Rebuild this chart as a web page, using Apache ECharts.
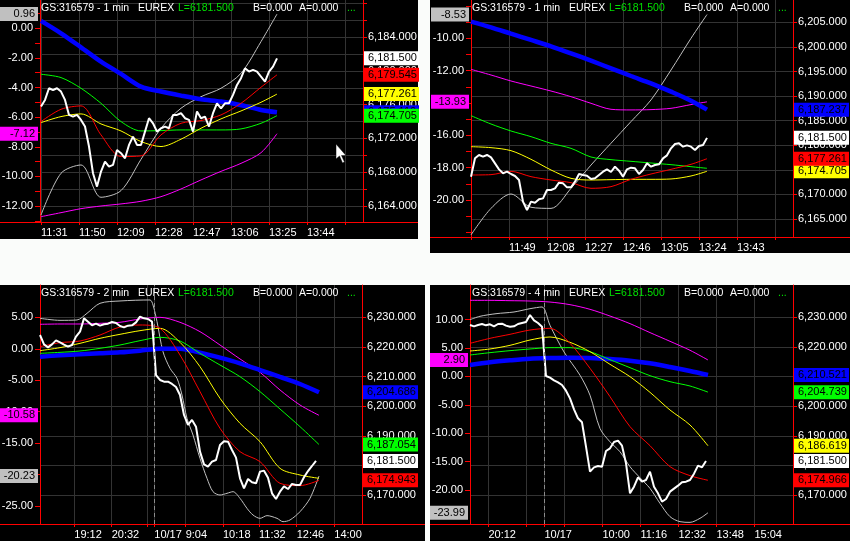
<!DOCTYPE html>
<html>
<head>
<meta charset="utf-8">
<script src="https://cdn.jsdelivr.net/npm/echarts@6/dist/echarts.min.js"></script>
<style>
  html, body { margin: 0; padding: 0; background: #fafcfa; }
  #main { width: 850px; height: 541px; }
</style>
</head>
<body>
<div id="main"></div>
<script>
  var FONT = "'Liberation Sans', Arial, sans-serif";

  // ---- panel 1 : 1 min, x = bars since 11:31 ----
  var p1WhiteStep = 2;
  var p1White = [6175.78, 6176.57, 6177.95, 6177.75, 6177.95, 6177.56, 6176.57, 6174.79, 6174.59, 6174.79,
    6174.20, 6173.41, 6171.04, 6167.87, 6166.29, 6168.07, 6169.26, 6168.66, 6168.86, 6170.64,
    6170.25, 6169.65, 6171.23, 6172.22, 6171.23, 6171.23, 6172.81, 6174.40, 6173.80, 6172.81,
    6173.21, 6173.41, 6173.21, 6174.79, 6174.79, 6174.99, 6174.40, 6174.20, 6172.81, 6175.19,
    6174.40, 6174.59, 6173.41, 6174.99, 6176.17, 6175.58, 6176.17, 6176.17, 6177.16, 6178.35,
    6179.14, 6180.32, 6179.93, 6180.13, 6179.93, 6179.34, 6178.74, 6179.93, 6180.52, 6181.50];
  var p1LineX = [0, 10, 20, 30, 40, 50, 60, 70, 80, 90, 100, 110, 118];
  var p1Blue = [6185.94, 6184.47, 6182.81, 6181.11, 6179.65, 6178.15, 6177.56, 6177.08, 6176.65, 6176.37, 6175.94, 6175.38, 6175.11];
  var p1Green = [6179.61, 6179.22, 6177.95, 6176.17, 6174.00, 6172.89, 6172.93, 6173.01, 6173.01, 6173.01, 6173.13, 6173.80, 6174.705];
  var p1Yellow = [6173.88, 6174.59, 6174.91, 6173.72, 6172.89, 6171.63, 6171.04, 6171.91, 6173.21, 6174.32, 6175.26, 6176.29, 6177.261];
  var p1Red = [6174.00, 6175.46, 6175.86, 6172.42, 6169.85, 6169.93, 6172.42, 6173.80, 6174.12, 6174.79, 6176.17, 6178.07, 6179.545];
  var p1Gray = [-12.61, -9.79, -9.23, -11.41, -10.96, -8.85, -6.75, -5.40, -4.62, -4.05, -3.04, -0.90, 0.96];
  var p1Magenta = [-12.72, -12.45, -12.18, -12.00, -11.86, -11.68, -11.37, -10.85, -10.24, -9.66, -9.12, -8.40, -7.12];
  var p1TimeTicks = [0, 19, 38, 57, 76, 95, 114, 133, 152];
  var p1TimeLabels = ['11:31', '11:50', '12:09', '12:28', '12:47', '13:06', '13:25', '13:44', ''];
  var p1PriceTicks = [6164, 6166, 6168, 6170, 6172, 6174, 6176, 6178, 6180, 6182, 6184, 6186, 6188];
  var p1PriceLabels = [6164, 6168, 6172, 6176, 6180, 6184];
  var p1OscTicks = [-13, -12, -11, -10, -9, -8, -7, -6, -5, -4, -3, -2, -1, 0, 1];
  var p1OscLabels = [-12, -10, -8, -6, -4, -2, 0];

  // ---- panel 2 : 1 min, x = bars since 11:30 ----
  var p2WhiteStep = 2;
  var p2White = [6173.61, 6177.34, 6178.02, 6177.68, 6178.02, 6177.54, 6176.32, 6175.10, 6174.29, 6174.63,
    6174.15, 6173.75, 6172.93, 6168.53, 6166.83, 6168.53, 6168.32, 6169.00, 6169.20, 6170.90,
    6170.90, 6171.24, 6172.39, 6172.25, 6171.44, 6171.44, 6172.59, 6174.15, 6173.95, 6173.81,
    6173.14, 6173.27, 6173.95, 6174.63, 6175.10, 6174.56, 6175.64, 6174.83, 6173.61, 6175.10,
    6175.44, 6175.31, 6174.15, 6174.97, 6176.32, 6175.64, 6175.98, 6176.12, 6177.34, 6177.95,
    6179.37, 6180.25, 6180.39, 6179.71, 6179.98, 6179.71, 6179.03, 6179.85, 6180.05, 6181.50];
  var p2LineX = [0, 10, 20, 30, 40, 50, 60, 70, 80, 90, 100, 110, 118];
  var p2Blue = [6205.14, 6203.98, 6202.69, 6201.41, 6200.12, 6198.69, 6197.20, 6195.64, 6194.08, 6192.59, 6190.90, 6189.07, 6187.237];
  var p2Green = [6186.02, 6184.32, 6182.90, 6181.75, 6180.39, 6179.37, 6177.61, 6177.07, 6176.73, 6176.39, 6176.05, 6175.64, 6175.31];
  var p2Yellow = [6179.71, 6179.51, 6178.90, 6177.14, 6174.97, 6173.27, 6172.93, 6173.00, 6173.07, 6173.07, 6173.14, 6173.75, 6174.705];
  var p2Red = [6173.95, 6174.02, 6174.69, 6173.61, 6172.93, 6172.39, 6171.24, 6171.58, 6173.07, 6174.15, 6175.10, 6176.12, 6177.261];
  var p2Gray = [-22.16, -20.52, -19.63, -20.45, -20.52, -19.28, -17.84, -16.49, -15.15, -13.81, -11.96, -10.00, -8.53];
  var p2Magenta = [-11.92, -12.27, -12.64, -12.95, -13.26, -13.61, -14.02, -14.39, -14.43, -14.41, -14.33, -14.10, -13.93];
  var p2TimeTicks = [0, 19, 38, 57, 76, 95, 114, 133, 152];
  var p2TimeLabels = ['', '11:49', '12:08', '12:27', '12:46', '13:05', '13:24', '13:43', ''];
  var p2PriceTicks = [6165, 6170, 6175, 6180, 6185, 6190, 6195, 6200, 6205];
  var p2OscTicks = [-22, -21, -20, -19, -18, -17, -16, -15, -14, -13, -12, -11, -10, -9, -8];
  var p2OscLabels = [-20, -18, -16, -14, -12, -10];

  // ---- panel 3 : 2 min bars ----
  var p3WhiteStep = 4;
  var p3White = [6224.03, 6220.88, 6219.87, 6220.88, 6222.23, 6221.56, 6220.77, 6220.09, 6220.66, 6223.47,
    6225.16, 6229.66, 6228.54, 6227.30, 6227.86, 6227.19, 6227.64, 6227.86, 6228.42, 6228.09,
    6227.07, 6226.62, 6227.19, 6227.30, 6228.31, 6230.23, 6229.66, 6229.44, 6228.54, 6210.52,
    6208.84, 6208.27, 6208.27, 6207.49, 6206.47, 6203.77, 6197.02, 6193.64, 6195.33, 6193.08,
    6184.63, 6180.35, 6179.57, 6181.26, 6181.82, 6186.88, 6188.12, 6188.01, 6185.20, 6182.61,
    6175.63, 6172.25, 6175.40, 6174.28, 6173.94, 6177.88, 6178.22, 6175.85, 6170.56, 6168.65,
    6171.12, 6172.92, 6172.02, 6173.71, 6173.37, 6173.37, 6175.96, 6178.10, 6179.79, 6181.50];
  var p3LineX = [0, 20, 40, 60, 80, 100, 120, 140, 160, 180, 200, 220, 240, 260, 279];
  var p3Blue = [6216.72, 6217.17, 6217.50, 6217.84, 6218.18, 6218.74, 6219.42, 6219.42, 6218.07, 6216.38, 6214.46, 6212.21, 6209.85, 6207.49, 6204.686];
  var p3Green = [6217.84, 6218.18, 6218.63, 6219.53, 6220.66, 6222.12, 6223.25, 6222.01, 6217.84, 6213.90, 6209.96, 6204.90, 6199.04, 6193.08, 6187.054];
  var p3Yellow = [6218.74, 6219.76, 6221.22, 6222.91, 6224.26, 6225.50, 6226.29, 6221.56, 6213.34, 6202.64, 6194.20, 6188.01, 6179.00, 6176.75, 6175.63];
  var p3Red = [6220.09, 6221.44, 6222.01, 6224.03, 6226.74, 6227.41, 6226.29, 6217.28, 6204.90, 6192.51, 6184.63, 6181.26, 6173.94, 6173.15, 6174.943];
  var p3Magenta = [3.89, 3.94, 3.94, 4.05, 4.21, 4.74, 5.00, 4.21, 2.72, 0.60, -1.62, -3.74, -6.55, -8.94, -10.58];
  var p3GrayX = [0, 20, 37, 47, 60, 80, 110, 113, 117, 123, 130, 137, 142, 147, 153, 160, 167, 173, 180, 187,
    193, 200, 207, 213, 220, 227, 237, 243, 250, 260, 270, 279];
  var p3Gray = [4.84, 4.52, 4.58, 5.64, 7.23, 7.60, 7.76, 6.96, 4.31, -0.46, -3.11, -4.70, -7.35, -11.06, -13.71,
    -17.42, -20.60, -22.72, -23.25, -22.98, -22.72, -23.78, -25.37, -26.43, -26.96, -26.53, -26.96, -27.49,
    -27.22, -25.90, -23.78, -20.23];
  var p3TimeTicks = [34.3, 71.7, 107.7, 114.3, 145.7, 183, 219, 256.7, 294.3];
  var p3TimeLabels = ['19:12', '20:32', '', '10/17', '9:04', '10:18', '11:32', '12:46', '14:00'];
  var p3DayBreak = 114.3;
  var p3PriceTicks = [6170, 6180, 6190, 6200, 6210, 6220, 6230];
  var p3OscTicks = [-25, -20, -15, -10, -5, 0, 5];

  // ---- panel 4 : 4 min bars ----
  var p4WhiteStep = 2;
  var p4White = [6227.41, 6226.96, 6227.41, 6227.75, 6227.30, 6227.64, 6226.96, 6227.75, 6227.86, 6227.19,
    6226.85, 6226.96, 6227.75, 6228.09, 6228.42, 6230.79, 6228.99, 6228.09, 6226.85, 6210.19,
    6209.62, 6208.72, 6208.05, 6207.15, 6205.23, 6202.64, 6198.93, 6195.89, 6194.54, 6186.32,
    6177.88, 6179.34, 6179.79, 6179.57, 6184.86, 6185.76, 6187.90, 6188.35, 6186.66, 6180.69,
    6170.56, 6172.81, 6175.96, 6174.50, 6175.06, 6177.88, 6172.81, 6170.56, 6167.75, 6168.65,
    6171.12, 6172.14, 6173.15, 6174.28, 6174.50, 6175.06, 6177.20, 6179.90, 6179.34, 6181.50];
  var p4LineX = [0, 10, 20, 30, 40, 50, 60, 70, 80, 90, 100, 110, 119];
  var p4Blue = [6213.90, 6214.80, 6215.48, 6216.04, 6216.27, 6216.38, 6216.27, 6215.93, 6215.37, 6214.46, 6213.23, 6211.88, 6210.521];
  var p4Green = [6217.28, 6218.07, 6218.74, 6219.31, 6219.76, 6219.76, 6218.40, 6215.70, 6213.00, 6210.30, 6208.27, 6206.81, 6204.739];
  var p4Yellow = [6218.63, 6219.31, 6220.54, 6222.34, 6223.36, 6221.56, 6218.40, 6214.13, 6209.96, 6204.67, 6198.70, 6193.64, 6186.619];
  var p4Red = [6221.22, 6222.91, 6224.26, 6225.72, 6226.29, 6221.22, 6212.78, 6203.21, 6193.08, 6186.66, 6179.57, 6176.53, 6174.966];
  var p4Magenta = [13.40, 13.40, 13.34, 13.28, 13.10, 12.64, 11.82, 10.64, 9.30, 7.72, 6.19, 4.61, 2.90];
  var p4GrayX = [0, 5, 13, 22, 30, 36, 40, 47, 55, 60, 65, 70, 75, 80, 85, 90, 95, 100, 105, 110, 115, 119];
  var p4Gray = [10.00, 10.59, 11.05, 11.35, 11.93, 12.23, 9.00, 4.32, 0.22, -3.30, -9.16, -11.50, -13.26, -15.89,
    -17.83, -19.70, -22.34, -24.68, -25.56, -25.68, -24.97, -23.99];
  var p4TimeTicks = [9.2, 28.2, 37.2, 47.2, 66.2, 85.2, 104.2, 123.2, 142.2];
  var p4TimeLabels = ['20:12', '', '10/17', '', '10:00', '11:16', '12:32', '13:48', '15:04'];
  var p4DayBreak = 37.2;
  var p4PriceTicks = [6170, 6180, 6190, 6200, 6210, 6220, 6230];
  var p4OscTicks = [-20, -15, -10, -5, 0, 5, 10];

  var C = { white: '#ffffff', blue: '#0000ff', green: '#00ff00', yellow: '#ffff00',
            red: '#ff0000', gray: '#c0c0c0', magenta: '#ff00ff' };

  function pairs(xs, ys) { return ys.map(function (v, i) { return [xs[i], v]; }); }
  function stepPairs(step, ys) { return ys.map(function (v, i) { return [i * step, v]; }); }

  function fmtPrice(v) {
    var s = Number(v).toFixed(3).split('.');
    return s[0].replace(/\B(?=(\d{3})+(?!\d))/g, ',') + '.' + s[1];
  }
  function fmtOsc(v) { return Number(v).toFixed(2); }
  function lookup(ticks, labels) {
    return function (v) {
      for (var i = 0; i < ticks.length; i++) {
        if (Math.abs(ticks[i] - v) < 0.01) return labels[i];
      }
      return '';
    };
  }

  var panels = [
    { grid: { left: 40, top: 0, width: 323, height: 222 }, x: [-0.5, 161],
      yL: [-13.08, 1.91], yR: [6162.09, 6188.42],
      tTicks: p1TimeTicks, tLabels: p1TimeLabels, pTicks: p1PriceTicks, pLabels: p1PriceLabels,
      oTicks: p1OscTicks, oLabels: p1OscLabels,
      lines: [
        { d: pairs(p1LineX, p1Gray), ax: 'L', c: C.gray, w: 1, sm: true, box: true },
        { d: pairs(p1LineX, p1Magenta), ax: 'L', c: C.magenta, w: 1, sm: true, box: true },
        { d: pairs(p1LineX, p1Blue), ax: 'R', c: C.blue, w: 4.5, sm: true, box: true },
        { d: pairs(p1LineX, p1Green), ax: 'R', c: C.green, w: 1, sm: true, box: true },
        { d: pairs(p1LineX, p1Yellow), ax: 'R', c: C.yellow, w: 1, sm: true, box: true },
        { d: pairs(p1LineX, p1Red), ax: 'R', c: C.red, w: 1, sm: true, box: true },
        { d: stepPairs(p1WhiteStep, p1White), ax: 'R', c: C.white, w: 2, sm: false, box: true }
      ] },
    { grid: { left: 471, top: 0, width: 322, height: 237 }, x: [0, 161],
      yL: [-22.29, -7.63], yR: [6161.34, 6209.54],
      tTicks: p2TimeTicks, tLabels: p2TimeLabels, pTicks: p2PriceTicks, pLabels: p2PriceTicks,
      oTicks: p2OscTicks, oLabels: p2OscLabels,
      lines: [
        { d: pairs(p2LineX, p2Gray), ax: 'L', c: C.gray, w: 1, sm: true, box: true },
        { d: pairs(p2LineX, p2Magenta), ax: 'L', c: C.magenta, w: 1, sm: true, box: true },
        { d: pairs(p2LineX, p2Blue), ax: 'R', c: C.blue, w: 4.5, sm: true, box: true },
        { d: pairs(p2LineX, p2Green), ax: 'R', c: C.green, w: 1, sm: true, box: false },
        { d: pairs(p2LineX, p2Yellow), ax: 'R', c: C.yellow, w: 1, sm: true, box: true },
        { d: pairs(p2LineX, p2Red), ax: 'R', c: C.red, w: 1, sm: true, box: true },
        { d: stepPairs(p2WhiteStep, p2White), ax: 'R', c: C.white, w: 2, sm: false, box: true }
      ] },
    { grid: { left: 40, top: 285, width: 322, height: 239 }, x: [0, 322],
      yL: [-27.86, 10.14], yR: [6160.20, 6240.92],
      tTicks: p3TimeTicks, tLabels: p3TimeLabels, pTicks: p3PriceTicks, pLabels: p3PriceTicks,
      oTicks: p3OscTicks, oLabels: p3OscTicks, day: p3DayBreak,
      lines: [
        { d: pairs(p3GrayX, p3Gray), ax: 'L', c: C.gray, w: 1, sm: true, box: true },
        { d: pairs(p3LineX, p3Magenta), ax: 'L', c: C.magenta, w: 1, sm: true, box: true },
        { d: pairs(p3LineX, p3Blue), ax: 'R', c: C.blue, w: 4.5, sm: true, box: true },
        { d: pairs(p3LineX, p3Green), ax: 'R', c: C.green, w: 1, sm: true, box: true },
        { d: pairs(p3LineX, p3Yellow), ax: 'R', c: C.yellow, w: 1, sm: true, box: false },
        { d: pairs(p3LineX, p3Red), ax: 'R', c: C.red, w: 1, sm: true, box: true },
        { d: stepPairs(p3WhiteStep, p3White), ax: 'R', c: C.white, w: 2, sm: false, box: true }
      ] },
    { grid: { left: 470, top: 285, width: 323, height: 239 }, x: [0, 161.5],
      yL: [-25.97, 16.1], yR: [6160.20, 6240.92],
      tTicks: p4TimeTicks, tLabels: p4TimeLabels, pTicks: p4PriceTicks, pLabels: p4PriceTicks,
      oTicks: p4OscTicks, oLabels: p4OscTicks, day: p4DayBreak,
      lines: [
        { d: pairs(p4GrayX, p4Gray), ax: 'L', c: C.gray, w: 1, sm: true, box: true },
        { d: pairs(p4LineX, p4Magenta), ax: 'L', c: C.magenta, w: 1, sm: true, box: true },
        { d: pairs(p4LineX, p4Blue), ax: 'R', c: C.blue, w: 4.5, sm: true, box: true },
        { d: pairs(p4LineX, p4Green), ax: 'R', c: C.green, w: 1, sm: true, box: true },
        { d: pairs(p4LineX, p4Yellow), ax: 'R', c: C.yellow, w: 1, sm: true, box: true },
        { d: pairs(p4LineX, p4Red), ax: 'R', c: C.red, w: 1, sm: true, box: true },
        { d: stepPairs(p4WhiteStep, p4White), ax: 'R', c: C.white, w: 2, sm: false, box: true }
      ] }
  ];

  var grids = [], xAxes = [], yAxes = [], series = [];
  var GRID_LINE = '#333333';

  panels.forEach(function (p, k) {
    grids.push(Object.assign({ show: false, containLabel: false, outerBoundsMode: 'none' }, p.grid));
    xAxes.push({
      type: 'value', gridIndex: k, min: p.x[0], max: p.x[1],
      axisLine: { show: true, onZero: false, lineStyle: { color: '#ff0000', width: 1 } },
      axisTick: { show: true, customValues: p.tTicks, length: 3, lineStyle: { color: '#ff0000' } },
      axisLabel: { show: true, customValues: p.tTicks, formatter: lookup(p.tTicks, p.tLabels),
        color: '#ffffff', fontSize: 11, fontFamily: FONT, align: 'left', margin: 5 },
      splitLine: { show: true, lineStyle: { color: GRID_LINE, width: 1 } }
    });
    yAxes.push({
      type: 'value', gridIndex: k, position: 'left', min: p.yL[0], max: p.yL[1],
      axisLine: { show: true, onZero: false, lineStyle: { color: '#ff0000', width: 1 } },
      axisTick: { show: true, customValues: p.oTicks, length: 5, lineStyle: { color: '#ff0000' } },
      axisLabel: { show: true, customValues: p.oLabels, formatter: fmtOsc,
        color: '#ffffff', fontSize: 11, fontFamily: FONT, margin: 7 },
      splitLine: { show: false }
    });
    yAxes.push({
      type: 'value', gridIndex: k, position: 'right', min: p.yR[0], max: p.yR[1],
      axisLine: { show: true, onZero: false, lineStyle: { color: '#ff0000', width: 1 } },
      axisTick: { show: true, customValues: p.pTicks, length: 4, lineStyle: { color: '#ff0000' } },
      axisLabel: { show: true, customValues: p.pLabels, formatter: fmtPrice,
        color: '#ffffff', fontSize: 11, fontFamily: FONT, margin: 5 },
      splitLine: { show: true, lineStyle: { color: GRID_LINE, width: 1 } }
    });

    p.lines.forEach(function (ln, j) {
      var last = ln.d[ln.d.length - 1][1];
      var right = ln.ax === 'R';
      var marks = [];
      if (ln.box) marks.push({ yAxis: last });
      // dashed day separator rides on the price line
      if (p.day != null && j === p.lines.length - 1) {
        marks.push({ xAxis: p.day, label: { show: false },
          lineStyle: { color: '#8c8c8c', type: [4, 3], width: 1 } });
      }
      series.push({
        type: 'line', xAxisIndex: k, yAxisIndex: right ? 2 * k + 1 : 2 * k,
        data: ln.d, showSymbol: false, symbol: 'none', smooth: ln.sm ? 0.3 : false,
        lineStyle: { color: ln.c, width: ln.w }, itemStyle: { color: ln.c },
        silent: true, animation: false,
        markLine: marks.length ? {
          silent: true, symbol: ['none', 'none'], precision: 3, animation: false,
          lineStyle: { width: 0, color: 'rgba(0,0,0,0)', type: 'solid' },
          label: {
            show: true, position: right ? 'end' : 'start', distance: right ? 1 : 2,
            formatter: function () { return right ? fmtPrice(last) : fmtOsc(last); },
            color: '#000000', backgroundColor: ln.c, fontSize: 11, fontFamily: FONT, lineHeight: 12,
            padding: right ? [1, 2, 1, 4] : [1, 3, 1, 2], width: right ? 49 : 33
          },
          data: marks
        } : undefined
      });
    });
  });

  // panel frames, full width axis lines, header texts
  var graphics = [
    { type: 'rect', z: -10, silent: true, shape: { x: 0, y: 0, width: 418, height: 239 }, style: { fill: '#000' } },
    { type: 'rect', z: -10, silent: true, shape: { x: 430, y: 0, width: 420, height: 253 }, style: { fill: '#000' } },
    { type: 'rect', z: -10, silent: true, shape: { x: 0, y: 285, width: 425, height: 256 }, style: { fill: '#000' } },
    { type: 'rect', z: -10, silent: true, shape: { x: 430, y: 285, width: 420, height: 256 }, style: { fill: '#000' } },
    { type: 'line', z: 50, silent: true, shape: { x1: 0, y1: 222.5, x2: 418, y2: 222.5 }, style: { stroke: '#ff0000', lineWidth: 1 } },
    { type: 'line', z: 50, silent: true, shape: { x1: 430, y1: 237.5, x2: 850, y2: 237.5 }, style: { stroke: '#ff0000', lineWidth: 1 } },
    { type: 'line', z: 50, silent: true, shape: { x1: 0, y1: 524.5, x2: 425, y2: 524.5 }, style: { stroke: '#ff0000', lineWidth: 1 } },
    { type: 'line', z: 50, silent: true, shape: { x1: 430, y1: 524.5, x2: 850, y2: 524.5 }, style: { stroke: '#ff0000', lineWidth: 1 } },
    { type: 'polygon', z: 60, silent: true,
      shape: { points: [[336, 144], [336, 159], [339.5, 156], [342.5, 163], [344.5, 162], [341.5, 155.5], [346, 155.5]] },
      style: { fill: '#ffffff', stroke: '#000000', lineWidth: 0.5 } }
  ];

  var headers = [
    { x: 41, y: 8, tf: '1 min' },
    { x: 472, y: 8, tf: '1 min' },
    { x: 41, y: 293, tf: '2 min' },
    { x: 472, y: 293, tf: '4 min' }
  ];
  headers.forEach(function (h) {
    var parts = [
      { t: 'GS:316579 - ' + h.tf, dx: 0, c: '#ffffff' },
      { t: 'EUREX', dx: 97, c: '#ffffff' },
      { t: 'L=6181.500', dx: 137, c: '#00e000' },
      { t: 'B=0.000', dx: 212, c: '#ffffff' },
      { t: 'A=0.000', dx: 258, c: '#ffffff' },
      { t: '...', dx: 306, c: '#00e000' }
    ];
    parts.forEach(function (pt) {
      graphics.push({ type: 'text', z: 100, silent: true, x: h.x + pt.dx, y: h.y,
        style: { text: pt.t, fill: pt.c, fontSize: 10.5, fontFamily: FONT, verticalAlign: 'middle', align: 'left' } });
    });
  });

  var chart = echarts.init(document.getElementById('main'), null, { renderer: 'canvas' });
  chart.setOption({
    backgroundColor: '#fafcfa',
    animation: false,
    textStyle: { fontFamily: FONT },
    tooltip: { show: false },
    grid: grids,
    xAxis: xAxes,
    yAxis: yAxes,
    series: series,
    graphic: graphics
  });
</script>
</body>
</html>
